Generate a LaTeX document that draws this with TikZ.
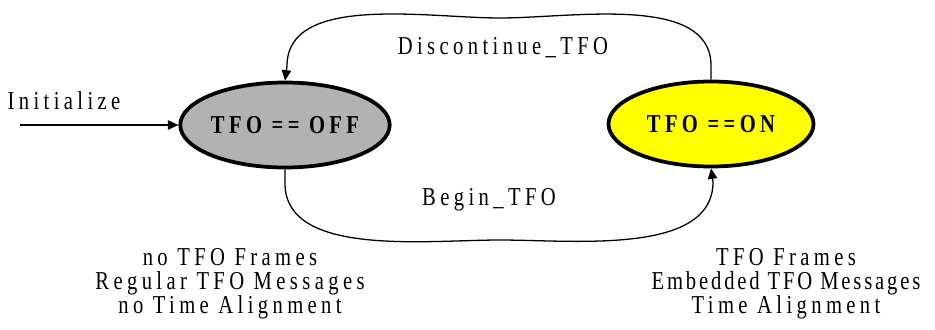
\documentclass[tikz,border=0pt]{standalone}
\usepackage{fontspec}
\setmainfont[LetterSpace=17,FakeStretch=0.8]{Liberation Serif}
\usepackage{tikz}
\usetikzlibrary{arrows.meta,shapes.geometric}

\definecolor{offgray}{RGB}{178,178,178}
\definecolor{onyellow}{RGB}{255,255,0}

\begin{document}
\begin{tikzpicture}
	[x=0.03cm,y=-0.03cm,
	 state/.style={ellipse,draw,line width=3.2pt,minimum width=6.15cm,minimum height=2.55cm,
	   inner sep=0pt,font=\fontsize{22}{22}\selectfont\bfseries},
	 lbl/.style={font=\fontsize{22}{20.4}\selectfont,inner sep=0pt},
	 edge/.style={line width=1.1pt,-{Triangle[length=9pt,width=8pt]}}]
	\useasboundingbox (0,0) rectangle (935,329);
	% states
	\node[state,fill=offgray] (off) at (285,125) {TFO == OFF};
	\node[state,fill=onyellow] (on) at (711,124) {TFO ==ON};
	% initialize
	\coordinate (init) at (20,125);
	\draw[edge] (init) -- (off.west);
	\node[lbl] (initlbl) at (64,101) {Initialize};
	% transitions
	\draw[edge] (on.north) -- ++(0,-14) to[out=90,in=0,looseness=0.85] (500,18) to[out=180,in=90,looseness=0.85] (287,66) -- (off.north);
	\node[lbl] (disc) at (503,48) {Discontinue\_TFO};
	\draw[edge] (off.south) -- ++(0,14) to[out=-90,in=180,looseness=0.85] (500,240) to[out=0,in=-90,looseness=0.85] (713,182) -- (on.south);
	\node[lbl] (begin) at (489,200) {Begin\_TFO};
	% notes
	\node[lbl,align=center] (offnote) at (230,284) {no TFO Frames\\Regular TFO Messages\\no Time Alignment};
	\node[lbl,align=center] (onnote) at (786,284) {TFO Frames\\{\addfontfeature{LetterSpace=11}Embedded TFO Messages}\\Time Alignment};
\end{tikzpicture}
\end{document}
